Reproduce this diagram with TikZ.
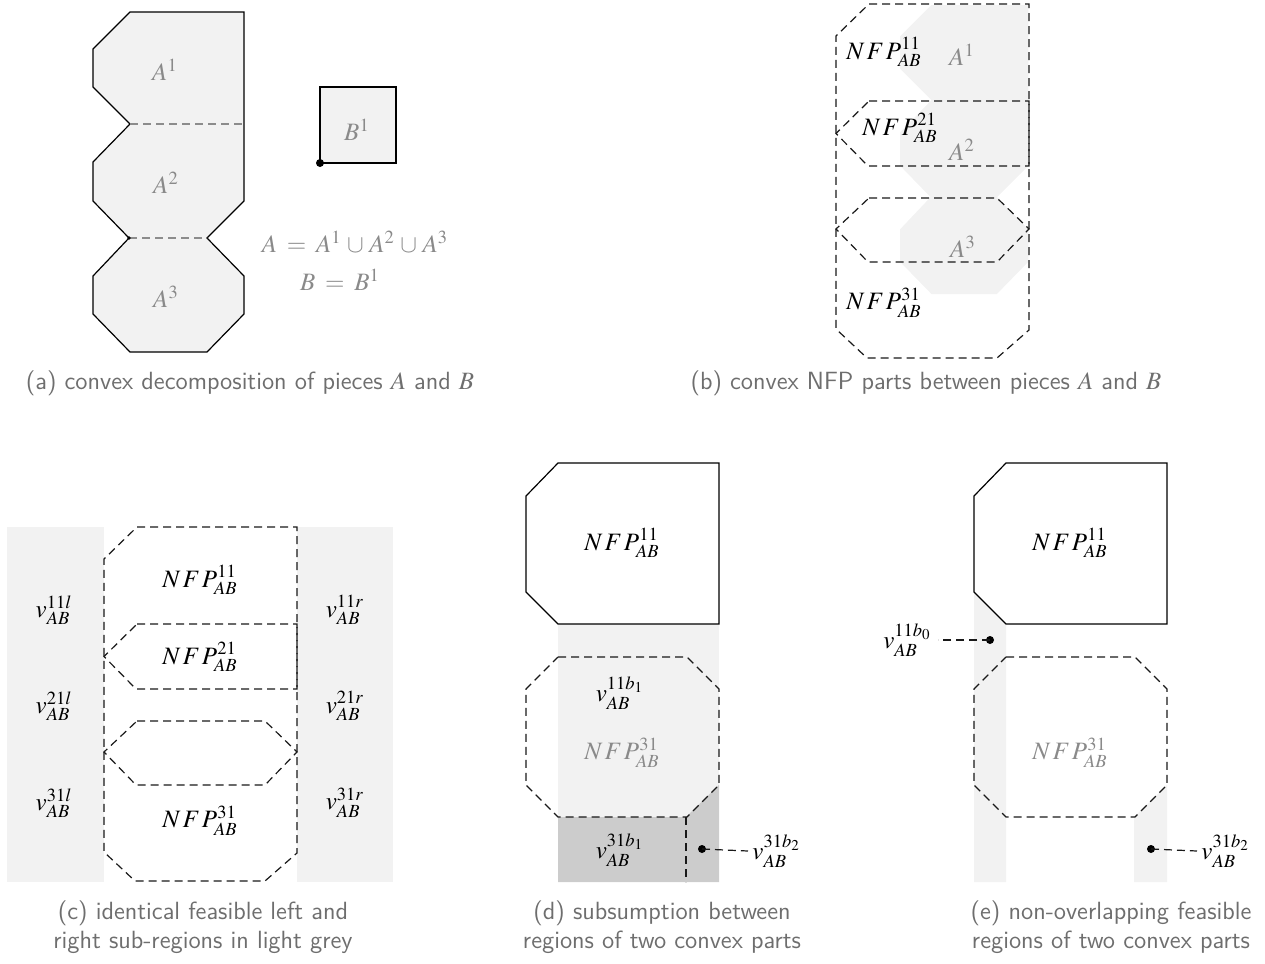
\documentclass[tikz,border=0pt]{standalone}
\usepackage{mathptmx}
\definecolor{lg}{HTML}{F2F2F2}
\definecolor{dg}{HTML}{CCCCCC}
\definecolor{tg}{HTML}{8A8A8A}
\definecolor{capg}{HTML}{6E6E6E}
\newcommand{\NFPx}{N\mskip1.5mu F\mskip1.5mu P}
\newcommand{\Apath}{(130,12)--(244,12)--(244,201)--(207,238)--(244,276)--(244,314)--(207,352)--(130,352)--(93,314)--(93,276)--(129,238)--(93,201)--(93,162)--(130,124)--(93,87)--(93,49)--cycle}
\newcommand{\drawnfpset}{%
  \draw[dsh] (33,0)--(193,0)--(193,326)--(161,354)--(31,354)--(0,325)--(0,32)--cycle;
  \draw[dsh] (33,97)--(193,97)--(193,162)--(32,162)--(0,129.5)--cycle;
  \draw[dsh] (33,194)--(161,194)--(193,225)--(161,258)--(32,258)--(0,225)--cycle;}
\newcommand{\solidnfp}{(558,463)--(719,463)--(719,624)--(558,624)--(526,592)--(526,496)--cycle}
\newcommand{\octnfp}{(558,657)--(687,657)--(719,689)--(719,785)--(687,817)--(558,817)--(526,785)--(526,689)--cycle}
\begin{document}
\begin{tikzpicture}[x=0.5pt,y=-0.5pt,
  sol/.style={draw=black,line width=0.6pt},
  dsh/.style={draw=black!90,line width=0.6pt,dash pattern=on 4pt off 2.5pt},
  gdsh/.style={draw=black!45,line width=0.55pt,dash pattern=on 4pt off 2.5pt},
  lbl/.style={inner sep=0pt,font=\fontsize{12.5}{15}\selectfont},
  glbl/.style={lbl,text=tg},
  captxt/.style={inner sep=0pt,align=center,text=capg,font=\fontsize{12.45}{14.3}\selectfont\sffamily}]
\useasboundingbox (0,0) rectangle (1265,964);
% ---------------- (a)
\filldraw[sol,fill=lg] \Apath;
\draw[gdsh] (130,124)--(244,124);
\draw[gdsh] (129,238)--(207,238);
\coordinate (anotch) at (129,238);
\fill (anotch) circle (0.9pt);
\filldraw[sol,fill=lg] (320,87) rectangle (396,163);
\coordinate (bref) at (320,163);
\fill (bref) circle (2pt);
\node[glbl] (a1) at (165,70) {$A^1$};
\node[glbl] (a2) at (166,183) {$A^2$};
\node[glbl] (a3) at (166,297) {$A^3$};
\node[glbl] (b1) at (357,130) {$B^1$};
\node[glbl] (eqa) at (355,242) {$A\mskip3mu = \mskip3mu A^1 \mskip1.5mu\cup\mskip1.5mu A^2 \mskip1.5mu\cup\mskip1.5mu A^3$};
\node[glbl] (eqb) at (340,280) {$B\mskip3mu = \mskip3mu B^1$};
\node[captxt] (capa) at (250,383) {(a) convex decomposition of pieces $A$ and $B$};
% ---------------- (b)
\begin{scope}[shift={(820.95,-5.2)},scale=0.85]
  \fill[lg] \Apath;
\end{scope}
\begin{scope}[shift={(836,4)}]
  \drawnfpset
\end{scope}
\node[glbl] (ba1) at (962,55) {$A^1$};
\node[glbl] (ba2) at (962,150) {$A^2$};
\node[glbl] (ba3) at (963,247) {$A^3$};
\node[lbl] (bn11) at (884,52) {$\NFPx^{11}_{AB}$};
\node[lbl] (bn21) at (900,128) {$\NFPx^{21}_{AB}$};
\node[lbl] (bn31) at (884,303) {$\NFPx^{31}_{AB}$};
\node[captxt] (capb) at (926,383) {(b) convex NFP parts between pieces $A$ and $B$};
% ---------------- (c)
\fill[lg] (7,527) rectangle (104,882);
\fill[lg] (297,527) rectangle (393,882);
\begin{scope}[shift={(104,527)}]
  \drawnfpset
\end{scope}
\node[lbl] (cn11) at (200,580) {$\NFPx^{11}_{AB}$};
\node[lbl] (cn21) at (200,657) {$\NFPx^{21}_{AB}$};
\node[lbl] (cn31) at (200,821) {$\NFPx^{31}_{AB}$};
\node[lbl] (cl11) at (54,610) {$v^{11l}_{AB}$};
\node[lbl] (cl21) at (54,706) {$v^{21l}_{AB}$};
\node[lbl] (cl31) at (54,803) {$v^{31l}_{AB}$};
\node[lbl] (cr11) at (345,610) {$v^{11r}_{AB}$};
\node[lbl] (cr21) at (345,706) {$v^{21r}_{AB}$};
\node[lbl] (cr31) at (345,803) {$v^{31r}_{AB}$};
\node[captxt] (capc) at (203,927) {(c) identical feasible left and\\right sub-regions in light grey};
% ---------------- (d)
\fill[lg] (558,624) rectangle (719,817);
\fill[dg] (558,817)--(686,817)--(719,785)--(719,882)--(558,882)--cycle;
\filldraw[sol,fill=white] \solidnfp;
\draw[dsh] \octnfp;
\draw[dsh] (686,817)--(686,882);
\node[lbl] (dn11) at (622,543) {$\NFPx^{11}_{AB}$};
\node[lbl] (dv11) at (620,693) {$v^{11b_1}_{AB}$};
\node[glbl] (dn31) at (622,753) {$\NFPx^{31}_{AB}$};
\node[lbl] (dv31) at (620,850) {$v^{31b_1}_{AB}$};
\coordinate (ddot) at (702,849);
\fill (ddot) circle (2pt);
\node[lbl,anchor=west] (dv32) at (752,851) {$v^{31b_2}_{AB}$};
\draw[dsh] (ddot) -- ([xshift=-2pt]dv32.west);
\node[captxt] (capd) at (662,927) {(d) subsumption between\\regions of two convex parts};
% ---------------- (e)
\fill[lg] (974,592)--(1006,624)--(1006,882)--(974,882)--cycle;
\fill[lg] (1134,817)--(1167,785)--(1167,882)--(1134,882)--cycle;
\begin{scope}[shift={(448,0)}]
  \filldraw[sol,fill=white] \solidnfp;
  \draw[dsh] \octnfp;
\end{scope}
\node[lbl] (en11) at (1070,543) {$\NFPx^{11}_{AB}$};
\node[glbl] (en31) at (1070,753) {$\NFPx^{31}_{AB}$};
\coordinate (edot1) at (990,640);
\fill (edot1) circle (2pt);
\node[lbl,anchor=east] (ev10) at (932,640) {$v^{11b_0}_{AB}$};
\draw[dsh] (edot1) -- ([xshift=3pt]ev10.east);
\coordinate (edot2) at (1151,849);
\fill (edot2) circle (2pt);
\node[lbl,anchor=west] (ev32) at (1201,851) {$v^{31b_2}_{AB}$};
\draw[dsh] (edot2) -- ([xshift=-2pt]ev32.west);
\node[captxt] (cape) at (1111,927) {(e) non-overlapping feasible\\regions of two convex parts};
\end{tikzpicture}
\end{document}
